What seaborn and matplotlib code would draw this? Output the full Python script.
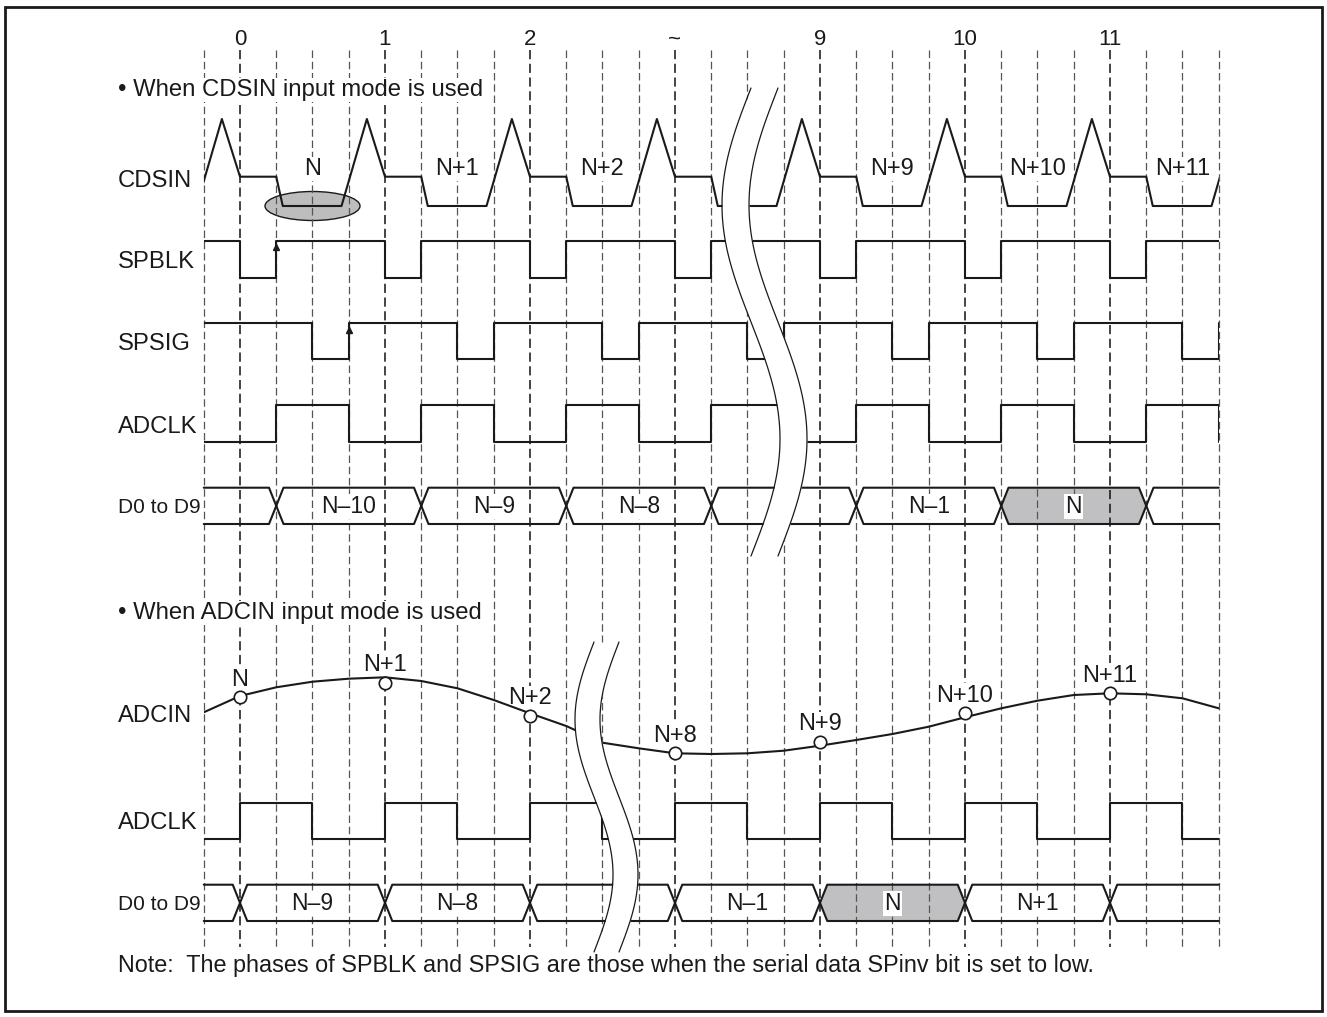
import numpy as np
import seaborn as sns
import matplotlib.pyplot as plt
from matplotlib.patches import Ellipse, Rectangle, Polygon

# x = quarter steps of the clock (0 = sample 0), y = picture rows (top down)
tick_q = [0, 4, 8, 12, 16, 20, 24]
tick_labels = ["0", "1", "2", "~", "9", "10", "11"]
grid_q = list(range(-1, 28))

cdsin_cycle_starts = [-4, 0, 4, 8, 12, 16, 20, 24]
cdsin_shape_q = [0, 1, 1.18, 2.8, 3.5, 4]
cdsin_shape_lvl = ["mid", "mid", "low", "low", "peak", "mid"]
cdsin_labels = ["N", "N+1", "N+2", "N+9", "N+10", "N+11"]
cdsin_label_q = [2, 6, 10, 18, 22, 26]

spblk_edges = [0, 1, 4, 5, 8, 9, 12, 13, 16, 17, 20, 21, 24, 25]
spsig_edges = [2, 3, 6, 7, 10, 11, 14, 15, 18, 19, 22, 23, 26, 27]
adclk1_edges = [1, 3, 5, 7, 9, 11, 13, 15, 17, 19, 21, 23, 25, 27]
adclk2_edges = [0, 2, 4, 6, 8, 10, 12, 14, 16, 18, 20, 22, 24, 26]

d1_cross = [1, 5, 9, 13, 17, 21, 25]
d1_labels = ["", "N\u201310", "N\u20139", "N\u20138", "", "N\u20131", "N", ""]
d1_gray = "N"
d2_cross = [0, 4, 8, 12, 16, 20, 24]
d2_labels = ["", "N\u20139", "N\u20138", "", "N\u20131", "N", "N+1", ""]

adcin_q = list(range(-1, 28))
adcin_y = [712.3, 696.0, 687.3, 681.7, 678.7, 677.3, 681.0, 688.3, 700.0, 713.3,
           726.0, 742.7, 748.3, 753.3, 754.0, 753.3, 750.7, 745.7, 740.0, 734.0,
           726.7, 717.3, 708.3, 700.7, 695.0, 693.3, 694.3, 698.3, 708.3]
adcin_sample_q = [0, 4, 8, 12, 16, 20, 24]
adcin_sample_y = [697.3, 682.7, 716.0, 753.3, 742.0, 713.3, 693.3]
adcin_sample_labels = ["N", "N+1", "N+2", "N+8", "N+9", "N+10", "N+11"]
adcin_label_base = [686, 670.7, 704, 741.7, 730, 701.7, 681.7]

note = "Note:  The phases of SPBLK and SPSIG are those when the serial data SPinv bit is set to low."

X0, DX = 240, 36.25
INK = "#1a1a1a"
GRAY = "#c0c0c2"
FS = 17.2


def qx(px):
    return (px - X0) / DX


sns.set_theme(style="white")
plt.rcParams['font.family'] = ['Liberation Sans', 'DejaVu Sans']

fig = plt.figure(figsize=(13.27, 10.17), dpi=100)
ax = fig.add_axes([0, 0, 1, 1])


def trace(xs, ys, lw=1.5, z=3, clip=True):
    sns.lineplot(x=xs, y=ys, ax=ax, estimator=None, sort=False,
                 color=INK, linewidth=lw, zorder=z)
    line = ax.lines[-1]
    if clip:
        rect = Rectangle((-1, 0), 28, 1017, transform=ax.transData)
        line.set_clip_path(rect)
    return line


def square(edges, start_high, hi, lo):
    state = start_high
    xs, ys = [-1], [hi if state else lo]
    for e in edges:
        xs += [e, e]
        ys += [hi if state else lo, lo if state else hi]
        state = not state
    xs.append(27)
    ys.append(hi if state else lo)
    trace(xs, ys)


def data_row(cross, labels, top, bot, gray_label, base):
    h = 0.2
    mid = (top + bot) / 2
    bounds = [-1] + cross + [27]
    for i in range(len(bounds) - 1):
        a, b = bounds[i], bounds[i + 1]
        a_open, b_open = a == -1, b == 27
        tx = ([a] if a_open else [a, a + h]) + ([b] if b_open else [b - h, b])
        ty = ([top] if a_open else [mid, top]) + ([top] if b_open else [top, mid])
        by = ([bot] if a_open else [mid, bot]) + ([bot] if b_open else [bot, mid])
        trace(tx, ty, clip=False)
        trace(tx, by, clip=False)
        if labels[i] == gray_label:
            poly = list(zip(tx, ty)) + list(zip(tx[::-1], by[::-1]))
            ax.add_patch(Polygon(poly, closed=True, fc=GRAY, ec="none", zorder=0.5))
        if labels[i]:
            ax.text((a + b) / 2, base, labels[i], fontsize=16.5, ha="center",
                    va="baseline", color=INK, zorder=2,
                    bbox=dict(fc="white", ec="none", pad=1))


def label(y, s, size=FS):
    ax.text(qx(118), y, s, fontsize=size, ha="left", va="baseline", color=INK,
            zorder=2, bbox=dict(fc="white", ec="none", pad=1))


def draw_break(y0, y1, x_left, x_right, amp):
    y = np.linspace(y0, y1, 120)
    s = np.sin(2 * np.pi * (y - y0) / (y1 - y0))
    xl = x_left - amp * s
    xr = x_right - amp * s
    ax.fill_betweenx(y, xl, xr, color="white", zorder=4, lw=0)
    ax.plot(xl, y, color=INK, lw=0.9, zorder=4.5)
    ax.plot(xr, y, color=INK, lw=0.9, zorder=4.5)


# dashed timing grid
for q in grid_q:
    major = q % 4 == 0
    ax.vlines(q, 50, 947, colors="#111111" if major else "#555555",
              linewidth=1.1 if major else 0.9, linestyles=(0, (6, 3)), zorder=1)

for q, t in zip(tick_q, tick_labels):
    ax.text(q, 45, t, fontsize=16, ha="center", va="baseline", color=INK)

# ---- CDSIN input mode ----
label(96, "\u2022 When CDSIN input mode is used")

lv = {"mid": 176.7, "low": 206.0, "peak": 119.0}
cx, cy = [], []
for c in cdsin_cycle_starts:
    for o, l in zip(cdsin_shape_q, cdsin_shape_lvl):
        cx.append(c + o)
        cy.append(lv[l])
trace(cx, cy)
label(186.7, "CDSIN")
for q, s in zip(cdsin_label_q, cdsin_labels):
    ax.text(q, 175, s, fontsize=17, ha="center", va="baseline", color=INK,
            zorder=2, bbox=dict(fc="white", ec="none", pad=1))
ax.add_patch(Ellipse((2, 206), 95 / DX, 29, fc="#bdbdbd", ec=INK, lw=1, zorder=0.5))

square(spblk_edges, True, 241, 277.7)
label(268.3, "SPBLK")
ax.plot(1, 247, marker="^", ms=4.5, color=INK, zorder=3)

square(spsig_edges, True, 323.3, 359.3)
label(350, "SPSIG")
ax.plot(3, 329.5, marker="^", ms=4.5, color=INK, zorder=3)

square(adclk1_edges, False, 405.3, 441.7)
label(433.3, "ADCLK")

data_row(d1_cross, d1_labels, 487.7, 524, d1_gray, 513)
label(513.3, "D0 to D9", size=15)

draw_break(88, 556, qx(751), qx(778), 29 / DX)

# ---- ADCIN input mode ----
label(619, "\u2022 When ADCIN input mode is used")

trace(adcin_q, adcin_y)
sns.scatterplot(x=adcin_sample_q, y=adcin_sample_y, ax=ax, s=80, color="white",
                edgecolor=INK, linewidth=1.2, zorder=3.5)
for q, b, s in zip(adcin_sample_q, adcin_label_base, adcin_sample_labels):
    ax.text(q, b, s, fontsize=17, ha="center", va="baseline", color=INK,
            zorder=2, bbox=dict(fc="white", ec="none", pad=1))
label(722, "ADCIN")

square(adclk2_edges, False, 802.7, 838.7)
label(829, "ADCLK")

data_row(d2_cross, d2_labels, 884.7, 921, "N", 910)
label(910, "D0 to D9", size=15)

draw_break(642, 952, qx(594), qx(619), 19 / DX)

ax.text(qx(118), 972, note, fontsize=16.8, ha="left", va="baseline", color=INK)

# outer frame
fig.patches.append(Rectangle((5 / 1327, 6 / 1017), 1317 / 1327, 1004 / 1017,
                             transform=fig.transFigure, fill=False, ec=INK, lw=2))

ax.set_xlim(qx(0), qx(1327))
ax.set_ylim(1017, 0)
ax.axis("off")
fig.savefig("out.png", dpi=100)
